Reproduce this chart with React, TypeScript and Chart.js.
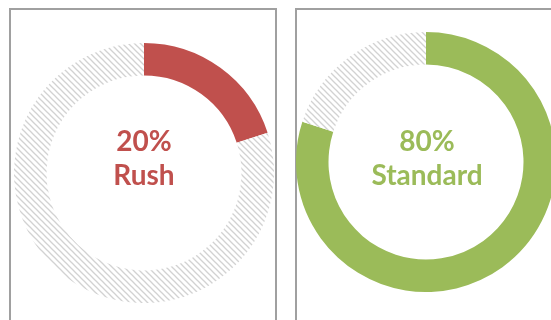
import React, { useEffect, useRef } from "react";
import { Chart, registerables } from "chart.js";

Chart.register(...registerables);

const rushLabels = ["Rush", "Other"];
const rushValues = [20, 80];
const standardLabels = ["Standard", "Other"];
const standardValues = [80, 20];
const rushText = ["20%", "Rush"];
const standardText = ["80%", "Standard"];

const RED = "#C0504D";
const GREEN = "#9BBB59";

function makePattern(): CanvasPattern | string {
  const c = document.createElement("canvas");
  c.width = 6;
  c.height = 6;
  const ctx = c.getContext("2d");
  if (!ctx) return "#e0e0e0";
  ctx.fillStyle = "#ffffff";
  ctx.fillRect(0, 0, 6, 6);
  ctx.strokeStyle = "#d2d2d2";
  ctx.lineWidth = 1.3;
  for (const off of [-6, 0, 6]) {
    ctx.beginPath();
    ctx.moveTo(off - 1, -1);
    ctx.lineTo(off + 7, 7);
    ctx.stroke();
  }
  const p = ctx.createPattern(c, "repeat");
  return p || "#e0e0e0";
}

function Ring({ labels, values, color, left, top }: { labels: string[]; values: number[]; color: string; left: number; top: number }) {
  const ref = useRef<HTMLCanvasElement>(null);
  useEffect(() => {
    if (!ref.current) return;
    const pattern = makePattern();
    const chart = new Chart(ref.current, {
      type: "doughnut",
      data: {
        labels,
        datasets: [
          {
            data: values,
            backgroundColor: [color, pattern as any],
            borderWidth: 0,
            hoverOffset: 0,
          },
        ],
      },
      options: {
        responsive: false,
        animation: false,
        devicePixelRatio: 1,
        cutout: "75%",
        layout: { padding: 0 },
        plugins: { legend: { display: false }, tooltip: { enabled: false } },
        events: [],
      },
    });
    return () => chart.destroy();
  }, []);
  return (
    <canvas
      ref={ref}
      width={260}
      height={260}
      style={{ position: "absolute", left, top, width: 260, height: 260 }}
    />
  );
}

function Label({ lines, color, cx, top }: { lines: string[]; color: string; cx: number; top: number }) {
  return (
    <div
      style={{
        position: "absolute",
        left: cx - 100,
        top,
        width: 200,
        textAlign: "center",
        fontFamily: "Lato, 'Open Sans', sans-serif",
        fontWeight: 700,
        fontSize: 28,
        lineHeight: "34px",
        color,
      }}
    >
      {lines.map((l, i) => (
        <div key={i}>{l}</div>
      ))}
    </div>
  );
}

export default function App() {
  return (
    <div
      style={{
        position: "absolute",
        left: 0,
        top: 0,
        width: 551,
        height: 320,
        overflow: "hidden",
        background: "#ffffff",
      }}
    >
      <div
        style={{
          position: "absolute",
          left: 9,
          top: 8,
          width: 264,
          height: 340,
          border: "2px solid #a0a0a0",
          background: "#fff",
        }}
      />
      <div
        style={{
          position: "absolute",
          left: 295,
          top: 8,
          width: 300,
          height: 340,
          border: "2px solid #a0a0a0",
          background: "#fff",
        }}
      />
      <Ring labels={rushLabels} values={rushValues} color={RED} left={14} top={43} />
      <Ring labels={standardLabels} values={standardValues} color={GREEN} left={296} top={32} />
      <Label lines={rushText} color={RED} cx={144} top={123} />
      <Label lines={standardText} color={GREEN} cx={427} top={123} />
    </div>
  );
}
